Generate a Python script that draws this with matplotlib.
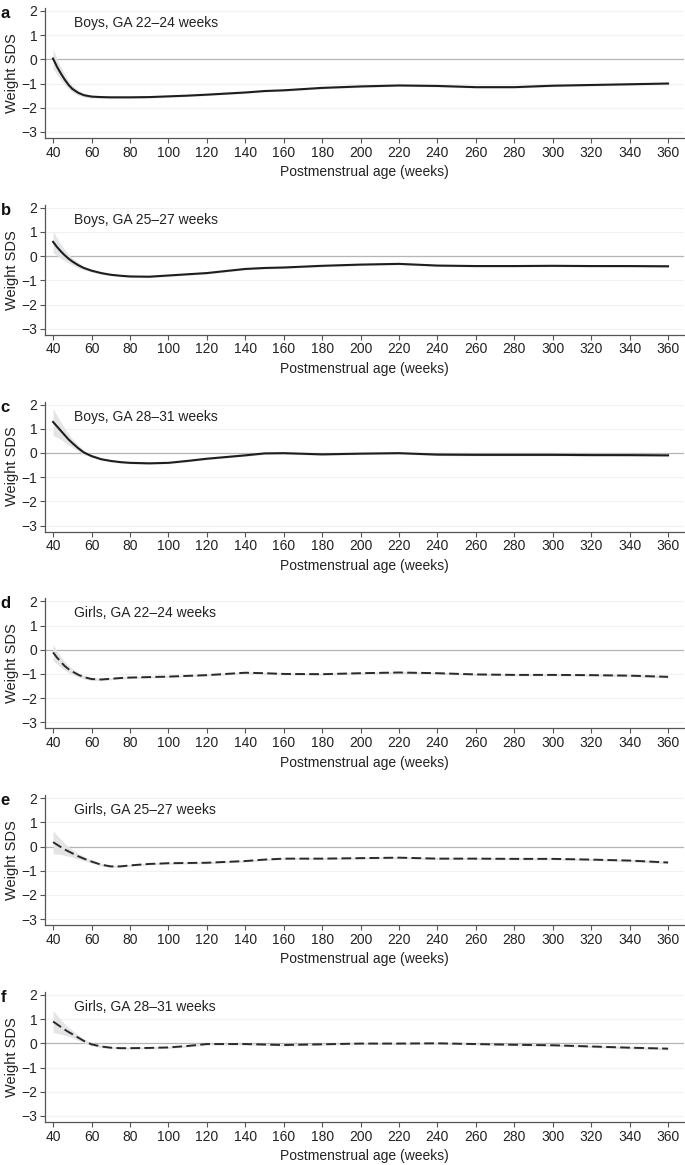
import numpy as np
import matplotlib
matplotlib.use("Agg")
import matplotlib.pyplot as plt

plt.rcParams['font.family'] = ['Liberation Sans', 'DejaVu Sans']

# Postmenstrual age (weeks) at which the curves were read
age = [40, 42, 44, 46, 48, 50, 53, 56, 60, 65, 70, 75, 80, 90, 100, 110, 120, 140,
       150, 160, 180, 200, 220, 240, 260, 280, 300, 320, 340, 360]

boys_22_24 = [0.03, -0.30, -0.58, -0.83, -1.05, -1.22, -1.38, -1.48, -1.54, -1.56,
              -1.57, -1.57, -1.57, -1.56, -1.53, -1.50, -1.46, -1.37, -1.31, -1.28,
              -1.18, -1.12, -1.08, -1.10, -1.15, -1.15, -1.09, -1.06, -1.03, -1.00]
boys_25_27 = [0.59, 0.38, 0.20, 0.04, -0.10, -0.22, -0.37, -0.49, -0.60, -0.70,
              -0.77, -0.81, -0.84, -0.85, -0.80, -0.75, -0.70, -0.53, -0.49, -0.47,
              -0.40, -0.35, -0.32, -0.39, -0.41, -0.41, -0.40, -0.41, -0.41, -0.42]
boys_28_31 = [1.28, 1.10, 0.92, 0.74, 0.56, 0.41, 0.20, 0.02, -0.13, -0.26,
              -0.33, -0.38, -0.41, -0.43, -0.41, -0.33, -0.24, -0.10, -0.02, -0.01,
              -0.06, -0.03, -0.01, -0.07, -0.08, -0.08, -0.08, -0.09, -0.09, -0.10]
girls_22_24 = [-0.11, -0.32, -0.50, -0.67, -0.80, -0.90, -1.03, -1.13, -1.21, -1.23,
               -1.20, -1.17, -1.15, -1.13, -1.11, -1.08, -1.05, -0.95, -0.97, -1.00,
               -1.01, -0.97, -0.94, -0.97, -1.02, -1.04, -1.04, -1.05, -1.07, -1.12]
girls_25_27 = [0.18, 0.08, -0.02, -0.12, -0.20, -0.28, -0.40, -0.50, -0.62, -0.75,
               -0.82, -0.82, -0.78, -0.72, -0.69, -0.68, -0.67, -0.60, -0.54, -0.50,
               -0.50, -0.48, -0.46, -0.50, -0.50, -0.51, -0.51, -0.54, -0.58, -0.66]
girls_28_31 = [0.90, 0.79, 0.68, 0.57, 0.47, 0.38, 0.24, 0.10, -0.04, -0.13,
               -0.18, -0.20, -0.20, -0.19, -0.17, -0.11, -0.03, -0.03, -0.05, -0.07,
               -0.04, -0.01, -0.01, 0.00, -0.03, -0.06, -0.08, -0.13, -0.18, -0.22]

# Half-width of the grey confidence band at the same ages
ci_boys_22_24 = [0.40, 0.32, 0.26, 0.21, 0.17, 0.14, 0.10, 0.08, 0.06, 0.05, 0.045, 0.04,
                 0.04, 0.04, 0.04, 0.04, 0.04, 0.04, 0.04, 0.04, 0.04, 0.04, 0.04, 0.04,
                 0.04, 0.04, 0.04, 0.04, 0.05, 0.05]
ci_boys_25_27 = [0.45, 0.36, 0.29, 0.23, 0.18, 0.15, 0.11, 0.08, 0.06, 0.05, 0.045, 0.04,
                 0.04, 0.04, 0.04, 0.04, 0.04, 0.04, 0.04, 0.04, 0.04, 0.04, 0.04, 0.04,
                 0.04, 0.04, 0.04, 0.04, 0.05, 0.05]
ci_boys_28_31 = [0.56, 0.45, 0.36, 0.29, 0.23, 0.18, 0.13, 0.09, 0.06, 0.05, 0.045, 0.04,
                 0.04, 0.04, 0.04, 0.04, 0.04, 0.04, 0.04, 0.04, 0.04, 0.04, 0.04, 0.04,
                 0.04, 0.04, 0.04, 0.04, 0.05, 0.05]
ci_girls_22_24 = [0.34, 0.27, 0.22, 0.18, 0.15, 0.12, 0.09, 0.07, 0.06, 0.05, 0.045, 0.04,
                  0.04, 0.04, 0.04, 0.04, 0.04, 0.04, 0.04, 0.04, 0.04, 0.04, 0.04, 0.04,
                  0.04, 0.04, 0.04, 0.04, 0.05, 0.05]
ci_girls_25_27 = [0.48, 0.39, 0.31, 0.25, 0.20, 0.16, 0.12, 0.09, 0.06, 0.05, 0.045, 0.04,
                  0.04, 0.04, 0.04, 0.04, 0.04, 0.04, 0.04, 0.04, 0.04, 0.04, 0.04, 0.04,
                  0.04, 0.04, 0.04, 0.04, 0.05, 0.05]
ci_girls_28_31 = [0.45, 0.37, 0.30, 0.24, 0.19, 0.15, 0.11, 0.08, 0.06, 0.05, 0.045, 0.04,
                  0.04, 0.04, 0.04, 0.04, 0.04, 0.04, 0.04, 0.04, 0.04, 0.04, 0.04, 0.04,
                  0.04, 0.04, 0.04, 0.04, 0.05, 0.05]

panel_letters = ['a', 'b', 'c', 'd', 'e', 'f']
panel_titles = ['Boys, GA 22\u201324 weeks', 'Boys, GA 25\u201327 weeks',
                'Boys, GA 28\u201331 weeks', 'Girls, GA 22\u201324 weeks',
                'Girls, GA 25\u201327 weeks', 'Girls, GA 28\u201331 weeks']
series = [boys_22_24, boys_25_27, boys_28_31, girls_22_24, girls_25_27, girls_28_31]
cis = [ci_boys_22_24, ci_boys_25_27, ci_boys_28_31, ci_girls_22_24, ci_girls_25_27,
       ci_girls_28_31]
is_girl = [False, False, False, True, True, True]

x_ticks = list(range(40, 361, 20))
y_ticks = [-3, -2, -1, 0, 1, 2]

W, H = 685, 1165
fig = plt.figure(figsize=(W / 100, H / 100), dpi=100)

pitch = 196.8
ax_left_px, ax_right_px = 45, 684
ax_top0, ax_bot0 = 8, 138

x = np.array(age)
for i in range(6):
    top = ax_top0 + pitch * i
    bot = ax_bot0 + pitch * i
    ax = fig.add_axes([ax_left_px / W, 1 - bot / H,
                       (ax_right_px - ax_left_px) / W, (bot - top) / H])
    y = np.array(series[i])
    hw = np.array(cis[i])
    ax.fill_between(x, y - hw, y + hw, color='#e3e4e6', lw=0, zorder=2)
    for yt in y_ticks:
        if yt == 0:
            ax.axhline(0, color='#b5b5b5', lw=0.9, zorder=1)
        else:
            ax.axhline(yt, color='#f1f1f1', lw=0.8, zorder=1)
    if is_girl[i]:
        ax.plot(x, y, color='#2a2a2a', lw=1.4, ls=(0, (5, 2.2)), zorder=3,
                solid_joinstyle='round')
    else:
        ax.plot(x, y, color='#1e1e1e', lw=1.5, zorder=3, solid_joinstyle='round')
    ax.set_xlim(35.8, 368.3)
    ax.set_ylim(-3.25, 2.12)
    ax.set_xticks(x_ticks)
    ax.set_yticks(y_ticks)
    ax.set_yticklabels(['\u22123', '\u22122', '\u22121', '0', '1', '2'])
    for s in ['top', 'right']:
        ax.spines[s].set_visible(False)
    for s in ['left', 'bottom']:
        ax.spines[s].set_color('#555555')
        ax.spines[s].set_linewidth(0.9)
    ax.tick_params(axis='both', direction='out', length=3.5, width=0.8,
                   color='#555555', labelsize=10, labelcolor='#222222', pad=2)
    ax.set_xlabel('Postmenstrual age (weeks)', fontsize=10, color='#222222', labelpad=4)
    ax.set_ylabel('Weight SDS', fontsize=10.5, color='#222222', labelpad=2)
    ax.text(0.045, 0.885, panel_titles[i], transform=ax.transAxes, fontsize=10,
            color='#222222', va='center', ha='left')
    fig.text(0.5 / W, 1 - (top - 2) / H, panel_letters[i], fontsize=12,
             fontweight='bold', va='top', ha='left', color='#111111')

fig.savefig('out.png', dpi=100)
